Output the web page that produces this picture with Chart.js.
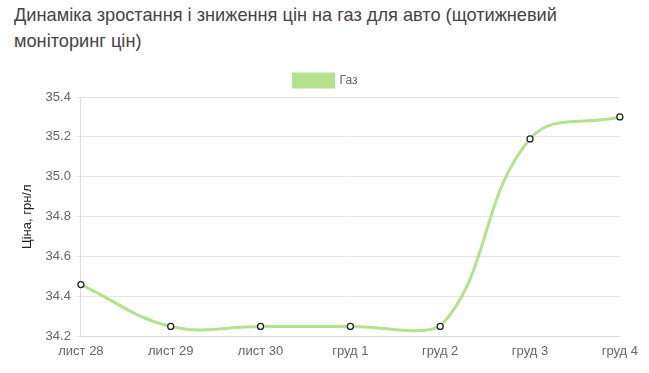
<!DOCTYPE html>
<html>
<head>
<meta charset="utf-8">
<script src="https://cdn.jsdelivr.net/npm/chart.js@4"></script>
<style>
  html, body { margin: 0; padding: 0; background: #fff; }
  #title { position: absolute; left: 14px; top: 2px; width: 620px; font-family: "Liberation Sans", Arial, sans-serif; font-size: 18.2px; line-height: 26px; color: #444; }
  #wrap { position: absolute; left: 0; top: 64px; width: 645px; height: 309px; }
</style>
</head>
<body>
<div id="title">Динаміка зростання і зниження цін на газ для авто (щотижневий моніторинг цін)</div>
<div id="wrap"><canvas id="c"></canvas></div>
<script>
const categories = ["лист 28", "лист 29", "лист 30", "груд 1", "груд 2", "груд 3", "груд 4"];
const gasPrices = [34.46, 34.25, 34.25, 34.25, 34.25, 35.19, 35.30];
const seriesName = "Газ";
const yAxisTitle = "Ціна, грн/л";

Chart.defaults.font.family = '"Liberation Sans", Arial, sans-serif';
Chart.defaults.color = '#666';
new Chart(document.getElementById('c'), {
  type: 'line',
  data: {
    labels: categories,
    datasets: [{
      label: seriesName,
      data: gasPrices,
      borderColor: 'rgb(180,226,140)',
      backgroundColor: 'rgb(180,226,140)',
      borderWidth: 3,
      tension: 0.4,
      fill: false,
      pointRadius: 3,
      pointBorderWidth: 1.3,
      pointBorderColor: '#222',
      pointBackgroundColor: '#fff'
    }]
  },
  options: {
    responsive: true,
    maintainAspectRatio: false,
    animation: false,
    layout: { padding: { left: 16, right: 10, bottom: 7, top: 0 } },
    plugins: {
      legend: { labels: { boxWidth: 40, boxHeight: 13, font: { size: 12 } } },
      tooltip: { enabled: false }
    },
    scales: {
      x: {
        grid: { display: false, drawTicks: false },
        border: { display: true, color: '#ddd' },
        ticks: { font: { size: 13 }, padding: 7 }
      },
      y: {
        min: 34.2, max: 35.4,
        ticks: { stepSize: 0.2, font: { size: 13 }, padding: 6, callback: v => v.toFixed(1) },
        grid: { color: '#e6e6e6', drawTicks: true, tickLength: 4 },
        border: { color: '#ddd' },
        title: { display: true, text: yAxisTitle, font: { size: 13 }, color: '#222' }
      }
    }
  }
});
</script>
</body>
</html>
